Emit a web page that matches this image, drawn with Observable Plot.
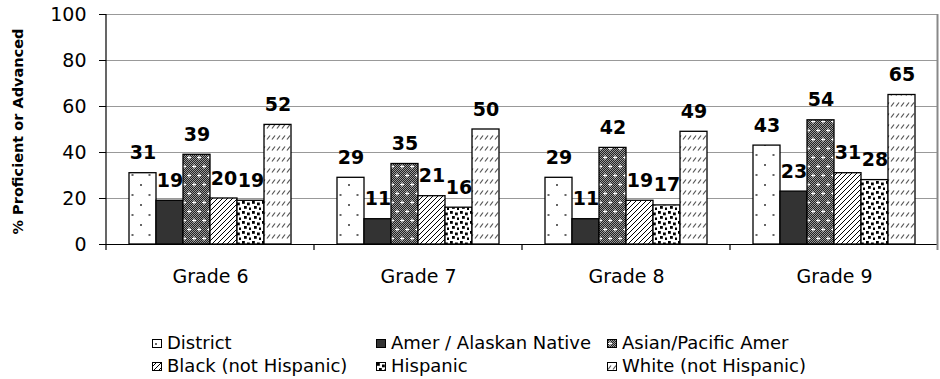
<!DOCTYPE html>
<html>
<head>
<meta charset="utf-8">
<script src="https://cdn.jsdelivr.net/npm/d3@7"></script>
<script src="https://cdn.jsdelivr.net/npm/@observablehq/plot@0.6"></script>
<style>
  body { margin: 0; background: #fff; }
  #wrap { width: 940px; position: relative; font-family: "DejaVu Sans", sans-serif; }
  #legend { position: relative; width: 940px; height: 79px; font-size: 18px; color: #000; }
  .item { position: absolute; display: flex; align-items: center; white-space: nowrap; line-height: 1; }
  .item svg { margin-right: 5px; }
</style>
</head>
<body>
<!-- fill patterns shared by the bars and the legend swatches -->
<svg width="0" height="0" style="position:absolute">
  <defs>
    <pattern id="p-district" width="17" height="20" patternUnits="userSpaceOnUse">
      <rect width="17" height="20" fill="#fff"/>
      <rect x="3" y="4" width="2" height="2" fill="#666"/>
      <rect x="11.5" y="14" width="2" height="2" fill="#666"/>
    </pattern>
    <pattern id="p-native" width="4" height="4" patternUnits="userSpaceOnUse">
      <rect width="4" height="4" fill="#333"/>
    </pattern>
    <pattern id="p-dither" width="2" height="2" patternUnits="userSpaceOnUse">
      <rect width="2" height="2" fill="#9a9a9a"/>
      <rect x="0" y="0" width="1" height="1" fill="#222"/>
      <rect x="1" y="1" width="1" height="1" fill="#222"/>
    </pattern>
    <pattern id="p-asian" width="10" height="18" patternUnits="userSpaceOnUse">
      <rect width="10" height="18" fill="url(#p-dither)"/>
      <path d="M1,4.5H5M3,2.5V6.5M6,13.5H10M8,11.5V15.5" stroke="#fff" stroke-width="1"/>
    </pattern>
    <pattern id="p-black" width="5" height="5" patternUnits="userSpaceOnUse">
      <rect width="5" height="5" fill="#fff"/>
      <path d="M0,5L5,0M-1,1L1,-1M4,6L6,4" stroke="#000" stroke-width="1"/>
    </pattern>
    <pattern id="p-hispanic" width="10" height="10" patternUnits="userSpaceOnUse">
      <rect width="10" height="10" fill="#fff"/>
      <rect x="1" y="1" width="2.8" height="2.8" fill="#000"/>
      <rect x="6" y="2.5" width="2.8" height="2.8" fill="#000"/>
      <rect x="3" y="6" width="2.8" height="2.8" fill="#000"/>
      <rect x="8" y="7.5" width="2.8" height="2.8" fill="#000"/>
    </pattern>
    <pattern id="p-white" width="5" height="11" patternUnits="userSpaceOnUse">
      <rect width="5" height="11" fill="#fff"/>
      <path d="M1,7.5L4,3.5" stroke="#555" stroke-width="1.2"/>
    </pattern>
  </defs>
</svg>
<div id="wrap">
  <div id="chart"></div>
  <div id="legend"></div>
</div>
<script>
// Share of students scoring Proficient or Advanced, by grade and student group
const grades = ["Grade 6", "Grade 7", "Grade 8", "Grade 9"];
const groups = ["District", "Amer / Alaskan Native", "Asian/Pacific Amer",
                "Black (not Hispanic)", "Hispanic", "White (not Hispanic)"];
const district     = [31, 29, 29, 43];
const amerNative   = [19, 11, 11, 23];
const asianPacific = [39, 35, 42, 54];
const blackNH      = [20, 21, 19, 31];
const hispanic     = [19, 16, 17, 28];
const whiteNH      = [52, 50, 49, 65];
const yTicks = [0, 20, 40, 60, 80, 100];
const yTitle = "% Proficient or Advanced";

const seriesValues = [district, amerNative, asianPacific, blackNH, hispanic, whiteNH];
const patternIds = ["p-district", "p-native", "p-asian", "p-black", "p-hispanic", "p-white"];
const fillOf = new Map(groups.map((g, i) => [g, `url(#${patternIds[i]})`]));

const rows = grades.flatMap((grade, gi) =>
  groups.map((group, si) => ({grade, group, value: seriesValues[si][gi]}))
);

const chart = Plot.plot({
  width: 940,
  height: 300,
  marginLeft: 105,
  marginRight: 2,
  marginTop: 14,
  marginBottom: 56,
  style: {fontFamily: "DejaVu Sans, sans-serif", fontSize: "19px", color: "#000", background: "#fff", overflow: "visible"},
  fx: {domain: grades, padding: 0, label: null},
  x: {domain: groups, paddingInner: 0, paddingOuter: 0.75, axis: null},
  y: {domain: [0, 100], label: null},
  color: {type: "identity"},
  marks: [
    Plot.gridY(yTicks, {stroke: "#999", strokeOpacity: 1}),
    Plot.axisY(yTicks, {tickSize: 7, tickPadding: 13, label: null, fontSize: 19}),
    // rotated y-axis title, drawn once beside the first grade group
    Plot.text([yTitle], {
      fx: () => grades[0], text: d => d,
      frameAnchor: "left", textAnchor: "middle", rotate: -90, dx: -88, dy: 2,
      fontWeight: "bold", fontSize: 14.5, fill: "#000"
    }),
    Plot.barY(rows, {
      fx: "grade", x: "group", y: "value",
      fill: d => fillOf.get(d.group),
      stroke: "#000", strokeWidth: 1.3
    }),
    Plot.ruleY([0], {stroke: "#000", strokeWidth: 1.2}),
    Plot.text(rows, {
      fx: "grade", x: "group", y: "value",
      text: d => String(d.value),
      lineAnchor: "bottom", dy: -14,
      fontWeight: "bold", fontSize: 19, fill: "#000"
    }),
    Plot.axisFx({anchor: "bottom", tickSize: 0, tickPadding: 25, label: null, fontSize: 19})
  ]
});

// Category separators, left axis line and right plot border, placed from the facet and y scales
const fx = chart.scale("fx");
const y = chart.scale("y");
const yTop = y.apply(100), yBase = y.apply(0);
const edges = grades.map(g => fx.apply(g)).concat(fx.apply(grades[grades.length - 1]) + fx.bandwidth);
const deco = d3.select(chart).append("g");
deco.append("line")
  .attr("x1", edges[edges.length - 1] - 0.5).attr("x2", edges[edges.length - 1] - 0.5)
  .attr("y1", yTop).attr("y2", yBase + 6)
  .attr("stroke", "#888").attr("stroke-width", 2);
deco.append("line")
  .attr("x1", edges[0]).attr("x2", edges[0])
  .attr("y1", yTop).attr("y2", yBase + 6)
  .attr("stroke", "#000").attr("stroke-width", 1.2);
deco.selectAll(".sep").data(edges.slice(1, -1)).join("line")
  .attr("x1", d => d).attr("x2", d => d)
  .attr("y1", yBase).attr("y2", yBase + 6)
  .attr("stroke", "#000").attr("stroke-width", 1.2);

document.getElementById("chart").append(chart);

// Legend: three columns, two rows
const legendCols = [152, 376, 607];
const legendRows = [34, 57];
const legend = d3.select("#legend");
groups.forEach((g, i) => {
  const item = legend.append("div").attr("class", "item")
    .style("left", legendCols[i % 3] + "px")
    .style("top", legendRows[Math.floor(i / 3)] + "px");
  const sw = item.append("svg").attr("width", 10).attr("height", 9);
  sw.append("rect").attr("x", 0.5).attr("y", 0.5).attr("width", 9).attr("height", 8)
    .attr("fill", fillOf.get(g)).attr("stroke", "#000").attr("stroke-width", 1);
  item.append("span").text(g);
});
</script>
</body>
</html>
